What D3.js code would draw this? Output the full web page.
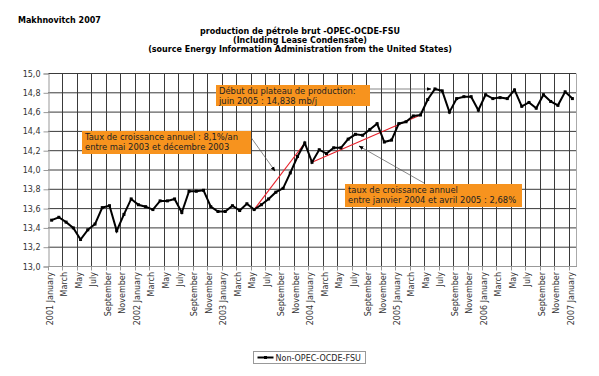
<!DOCTYPE html>
<html>
<head>
    <meta charset="utf-8">
    <title>production de pétrole brut -OPEC-OCDE-FSU</title>
    <script type="text/javascript" src="https://cdn.jsdelivr.net/npm/d3@7"></script>
    <style>
      body { margin: 0; background: #fff; }
      text { font-family: "DejaVu Sans", Verdana, sans-serif; }
    </style>
</head>
<body>
<script type="text/javascript">

        var width = 599
        var height = 376

        // data: monthly production, mb/j, Jan 2001 .. Jan 2007
        var monthNames = ["January","February","March","April","May","June","July","August","September","October","November","December"]
        var years = [2001, 2002, 2003, 2004, 2005, 2006, 2007]
        var production = [
            13.48, 13.51, 13.46, 13.40, 13.28, 13.38, 13.44, 13.61, 13.63, 13.37, 13.54, 13.70,
            13.64, 13.62, 13.59, 13.68, 13.68, 13.70, 13.56, 13.78, 13.78, 13.79, 13.62, 13.57,
            13.57, 13.63, 13.58, 13.65, 13.59, 13.64, 13.70, 13.77, 13.81, 13.97, 14.14, 14.28,
            14.08, 14.21, 14.17, 14.23, 14.23, 14.32, 14.37, 14.36, 14.42, 14.48, 14.29, 14.31,
            14.48, 14.50, 14.56, 14.57, 14.73, 14.84, 14.82, 14.60, 14.74, 14.76, 14.76, 14.62,
            14.78, 14.74, 14.75, 14.74, 14.83, 14.66, 14.70, 14.64, 14.78, 14.71, 14.67, 14.81,
            14.74
        ]
        var yTicks = [13.0, 13.2, 13.4, 13.6, 13.8, 14.0, 14.2, 14.4, 14.6, 14.8, 15.0]
        // trend segments (index of month from / to)
        var trends = [[28, 35], [36, 51]]

        var categories = production.map(function(d, i) {
            var m = i % 12, yr = years[Math.floor(i / 12)]
            return m == 0 ? yr + " " + monthNames[m] : monthNames[m]
        })

        var svg = d3.select("body").append("svg").attr("width", width).attr("height", height)

        var x = d3.scaleBand().domain(d3.range(production.length)).range([48, 576])
        var y = d3.scaleLinear().domain([13, 15]).range([266.5, 73.5])
        var cx = function(i) { return x(i) + x.bandwidth() / 2 }

        // titles
        svg.append("text").attr("x", 18).attr("y", 23)
            .attr("font-size", 8).attr("font-weight", "bold").text("Makhnovitch 2007")
        var titles = ["production de pétrole brut -OPEC-OCDE-FSU", "(Including Lease Condensate)",
                      "(source Energy Information Administration from the United States)"]
        svg.selectAll(".title").data(titles).enter().append("text")
            .attr("x", 300).attr("y", function(d, i) { return 34 + i * 8.8 })
            .attr("text-anchor", "middle").attr("font-size", 8).attr("font-weight", "bold")
            .text(function(d) { return d })

        // grid
        var grid = svg.append("g")
        grid.selectAll(".hg").data(yTicks.slice(1)).enter().append("line")
            .attr("x1", 48).attr("x2", 576)
            .attr("y1", function(d) { return y(d) }).attr("y2", function(d) { return y(d) })
            .attr("stroke", "#3a3a3a").attr("stroke-width", 1)
        var evenMonths = d3.range(2, production.length, 2)
        grid.selectAll(".vg").data(evenMonths).enter().append("line")
            .attr("x1", function(d) { return Math.round(x(d)) + 0.5 }).attr("x2", function(d) { return Math.round(x(d)) + 0.5 })
            .attr("y1", y(15)).attr("y2", y(13))
            .attr("stroke", "#3a3a3a").attr("stroke-width", 1)
        svg.append("line").attr("x1", 576.5).attr("x2", 576.5).attr("y1", y(15)).attr("y2", y(13))
            .attr("stroke", "#aaa")

        // axes
        var yAxis = svg.append("g").attr("transform", "translate(48.5,0)")
            .call(d3.axisLeft(y).tickValues(yTicks).tickSize(5)
                .tickFormat(function(d) { return d3.format(".1f")(d).replace(".", ",") }))
        yAxis.select(".domain").attr("stroke", "#999")
        yAxis.selectAll(".tick line").attr("stroke", "#999")
        yAxis.selectAll("text").attr("font-size", 8).attr("fill", "#333").attr("font-family", "DejaVu Sans")

        svg.append("line").attr("x1", 48).attr("x2", 577).attr("y1", y(13)).attr("y2", y(13)).attr("stroke", "#999")
        svg.selectAll(".xt").data(d3.range(0, production.length, 2)).enter().append("line")
            .attr("x1", function(d) { return Math.round(x(d)) + 0.5 }).attr("x2", function(d) { return Math.round(x(d)) + 0.5 })
            .attr("y1", y(13)).attr("y2", y(13) + 4).attr("stroke", "#999")
        svg.selectAll(".xl").data(d3.range(0, production.length, 2)).enter().append("text")
            .attr("transform", function(d) { return "translate(" + (x(d) + 2) + "," + 272 + ") rotate(-90)" })
            .attr("text-anchor", "end").attr("dy", "0.35em")
            .attr("font-size", 8).attr("fill", "#333")
            .text(function(d) { return categories[d] })

        // trend lines
        svg.selectAll(".trend").data(trends).enter().append("line")
            .attr("x1", function(d) { return cx(d[0]) }).attr("y1", function(d) { return y(production[d[0]]) })
            .attr("x2", function(d) { return cx(d[1]) }).attr("y2", function(d) { return y(production[d[1]]) })
            .attr("stroke", "#e8202a").attr("stroke-width", 1.1)

        // series
        var line = d3.line().x(function(d, i) { return cx(i) }).y(function(d) { return y(d) })
        svg.append("path").attr("d", line(production))
            .attr("fill", "none").attr("stroke", "#000").attr("stroke-width", 2)
        svg.selectAll(".pt").data(production).enter().append("rect")
            .attr("x", function(d, i) { return cx(i) - 1.5 }).attr("y", function(d) { return y(d) - 1.5 })
            .attr("width", 3).attr("height", 3).attr("fill", "#000")

        // annotations
        svg.append("defs").append("marker").attr("id", "arr")
            .attr("viewBox", "0 0 10 10").attr("refX", 9).attr("refY", 5)
            .attr("markerWidth", 7).attr("markerHeight", 7).attr("orient", "auto")
            .append("path").attr("d", "M0,1L10,5L0,9z").attr("fill", "#000")

        var notes = [
            {x: 216, y: 85, w: 154, h: 21, lines: ["Début du plateau de production:", "juin 2005 : 14,838 mb/j"], a: [370, 89, 431, 89]},
            {x: 82, y: 131, w: 169, h: 23, lines: ["Taux de croissance annuel : 8,1%/an", "entre mai 2003 et décembre 2003"], a: [250, 136, 275, 171]},
            {x: 345, y: 184, w: 177, h: 23, lines: ["taux de croissance annuel", "entre janvier 2004 et avril 2005 : 2,68%"], a: [424, 183, 359, 146]}
        ]
        notes.forEach(function(n) {
            svg.append("line").attr("x1", n.a[0]).attr("y1", n.a[1]).attr("x2", n.a[2]).attr("y2", n.a[3])
                .attr("stroke", "#555").attr("stroke-width", 0.7).attr("marker-end", "url(#arr)")
            svg.append("rect").attr("x", n.x).attr("y", n.y).attr("width", n.w).attr("height", n.h)
                .attr("fill", "#f7931e")
            n.lines.forEach(function(t, i) {
                svg.append("text").attr("x", n.x + 3).attr("y", n.y + 9 + i * 10)
                    .attr("font-size", 8.4).attr("fill", "#222").text(t)
            })
        })

        // legend
        var lg = svg.append("g").attr("transform", "translate(253.5,351.5)")
        lg.append("rect").attr("width", 112).attr("height", 12).attr("fill", "#fff").attr("stroke", "#999")
        lg.append("line").attr("x1", 4).attr("x2", 20).attr("y1", 6).attr("y2", 6).attr("stroke", "#000").attr("stroke-width", 2)
        lg.append("rect").attr("x", 10.5).attr("y", 4.5).attr("width", 3).attr("height", 3).attr("fill", "#000")
        lg.append("text").attr("x", 22).attr("y", 9).attr("font-size", 8).attr("fill", "#222").text("Non-OPEC-OCDE-FSU")

</script>
</body>
</html>
